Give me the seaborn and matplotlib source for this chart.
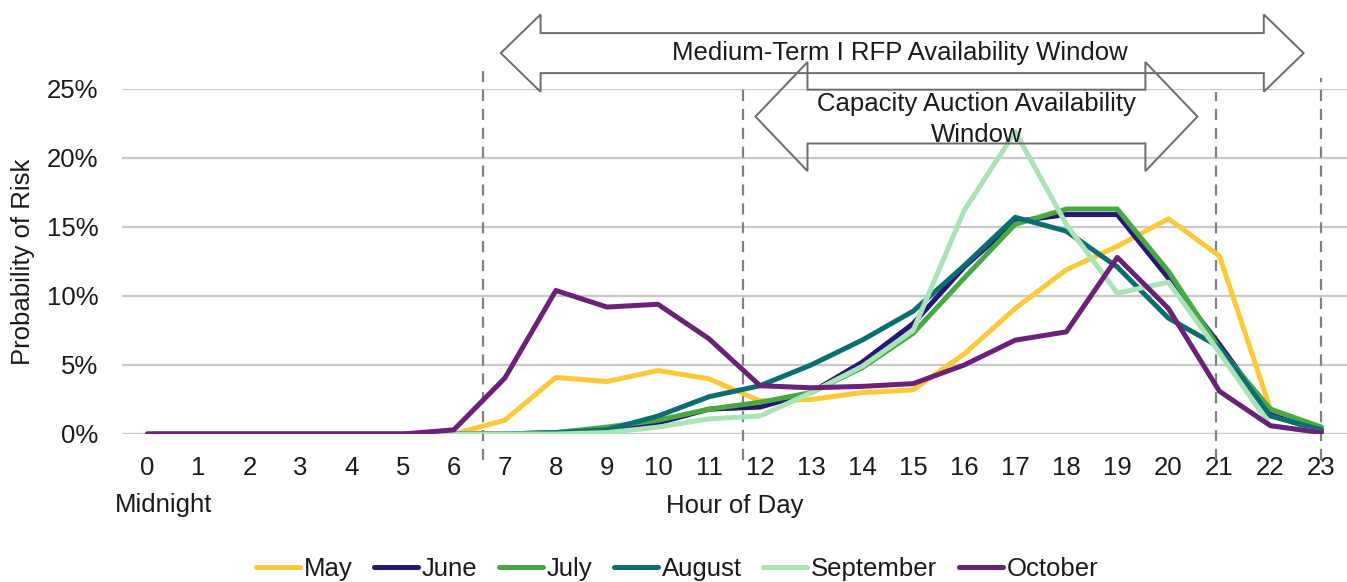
import numpy as np
import pandas as pd
import matplotlib
matplotlib.use("Agg")
import matplotlib.pyplot as plt
import seaborn as sns
from matplotlib.patches import Polygon
from matplotlib.ticker import FuncFormatter

# Hourly probability of risk (%) by month
hours = list(range(24))
may = [0, 0, 0, 0, 0, 0, 0, 1.0, 4.1, 3.8, 4.6, 4.0, 2.4, 2.5, 3.0, 3.2,
       5.8, 9.1, 11.9, 13.6, 15.6, 12.9, 1.8, 0.3]
june = [0, 0, 0, 0, 0, 0, 0, 0.0, 0.1, 0.3, 0.8, 1.8, 1.95, 3.0, 5.2, 8.0,
        12.1, 15.4, 15.9, 15.9, 11.3, 6.5, 1.4, 0.2]
july = [0, 0, 0, 0, 0, 0, 0, 0.0, 0.1, 0.5, 1.0, 1.8, 2.3, 3.0, 4.8, 7.3,
        11.3, 15.2, 16.3, 16.3, 11.8, 6.2, 1.8, 0.5]
august = [0, 0, 0, 0, 0, 0, 0, 0.0, 0.1, 0.3, 1.3, 2.7, 3.5, 5.0, 6.8, 8.9,
          12.2, 15.7, 14.7, 12.1, 8.4, 6.3, 1.3, 0.3]
september = [0, 0, 0, 0, 0, 0, 0, 0.0, 0.0, 0.1, 0.5, 1.1, 1.3, 3.0, 4.9, 7.5,
             16.2, 21.9, 15.2, 10.2, 11.0, 5.9, 0.6, 0.1]
october = [0, 0, 0, 0, 0, 0, 0.3, 4.05, 10.4, 9.2, 9.4, 6.9, 3.5, 3.35, 3.45, 3.65,
           5.0, 6.8, 7.4, 12.8, 9.1, 3.1, 0.6, 0.1]

months = ["May", "June", "July", "August", "September", "October"]
series = [may, june, july, august, september, october]
colors = ["#FFC83A", "#241873", "#4AA843", "#0A6E70", "#ABE3B6", "#6B2177"]

y_ticks = [0, 5, 10, 15, 20, 25]

# Availability windows (hours) and boundaries marked with dashed lines
rfp_window = (6.92, 22.65)
rfp_label = "Medium-Term I RFP Availability Window"
auction_window = (11.91, 20.57)
auction_label = "Capacity Auction Availability\nWindow"
boundaries = [6.58, 11.66, 20.94, 23.0]
boundary_tops = [26.5, 24.9, 24.8, 25.8]

df = pd.DataFrame({
    "Hour": np.tile(hours, len(months)),
    "Risk": np.concatenate(series),
    "Month": np.repeat(months, len(hours)),
})

sns.set_theme(style="white")
plt.rcParams["font.family"] = ["Liberation Sans", "DejaVu Sans"]
FS = 18.5
TXT = "#1a1a1a"
LW = 3.6

fig = plt.figure(figsize=(13.47, 5.82), dpi=100)
ax = fig.add_axes([0.0906, 0.2543, 0.9094, 0.5928])

sns.lineplot(data=df, x="Hour", y="Risk", hue="Month", hue_order=months,
             palette=dict(zip(months, colors)), linewidth=LW, ax=ax,
             legend=True, zorder=3)

ax.set_xlim(-0.5, 23.5)
ax.set_ylim(0, 25)
ax.set_xticks(hours)
ax.set_yticks(y_ticks)
ax.yaxis.set_major_formatter(FuncFormatter(lambda v, p: f"{v:.0f}%"))
ax.tick_params(axis="both", length=0, labelsize=FS, colors=TXT)
ax.tick_params(axis="x", pad=16)
ax.tick_params(axis="y", pad=17)
ax.yaxis.grid(True, color="#c8c8c8", linewidth=1.6, zorder=0)
ax.xaxis.grid(False)
for s in ax.spines.values():
    s.set_visible(False)

ax.set_xlabel("")
ax.set_ylabel("Probability of Risk", fontsize=FS, color=TXT)
ax.yaxis.set_label_coords(-0.071, 0.5)
ax.text(-0.006, -0.205, "Midnight", transform=ax.transAxes, ha="left", va="center",
        fontsize=FS, color=TXT)
ax.text(0.5, -0.21, "Hour of Day", transform=ax.transAxes, ha="center", va="center",
        fontsize=FS, color=TXT)

# Dashed boundary markers
for bx, top in zip(boundaries, boundary_tops):
    ax.plot([bx, bx], [-1.9, top], color="#808080", linewidth=1.6,
            linestyle=(0, (5, 3.5)), clip_on=False, zorder=2)


def double_arrow(x0, x1, head_len, yc, body_half, head_half):
    pts = [
        (x0, yc),
        (x0 + head_len, yc + head_half),
        (x0 + head_len, yc + body_half),
        (x1 - head_len, yc + body_half),
        (x1 - head_len, yc + head_half),
        (x1, yc),
        (x1 - head_len, yc - head_half),
        (x1 - head_len, yc - body_half),
        (x0 + head_len, yc - body_half),
        (x0 + head_len, yc - head_half),
    ]
    poly = Polygon(pts, closed=True, fill=False, edgecolor="#6b6b6b",
                   linewidth=1.4, clip_on=False, zorder=4)
    ax.add_patch(poly)


double_arrow(rfp_window[0], rfp_window[1], 0.78, 27.6, 1.45, 2.8)
ax.text(sum(rfp_window) / 2 - 0.04, 27.6, rfp_label, ha="center", va="center",
        fontsize=FS, color=TXT, zorder=5)
double_arrow(auction_window[0], auction_window[1], 1.02, 23.0, 1.95, 3.95)
ax.text(16.24, 22.8, auction_label, ha="center", va="center", fontsize=FS,
        color=TXT, linespacing=1.35, zorder=5)

# Legend along the bottom edge
handles, labels = ax.get_legend_handles_labels()
ax.get_legend().remove()
for h in handles:
    h.set_linewidth(LW)
fig.legend(handles, labels, loc="center", bbox_to_anchor=(677 / 1347, 1 - 569 / 582),
           ncol=6, frameon=False, fontsize=FS, handlelength=1.7, handletextpad=0.15,
           columnspacing=0.85, labelcolor=TXT)

fig.savefig("out.png", dpi=100)
